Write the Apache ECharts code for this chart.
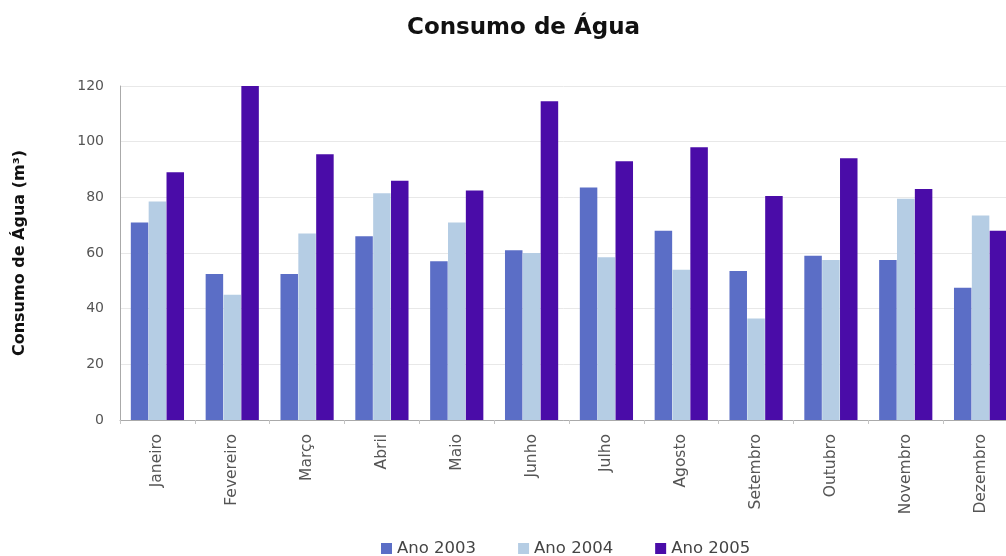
<!DOCTYPE html>
<html>
<head>
<meta charset="utf-8">
<script src="https://cdn.jsdelivr.net/npm/echarts@6/dist/echarts.min.js"></script>
<style>
html,body{margin:0;padding:0;background:#fff;}
#chart{width:1006px;height:556px;}
</style>
</head>
<body>
<div id="chart"></div>
<script>
const categories = ['Janeiro','Fevereiro','Março','Abril','Maio','Junho','Julho','Agosto','Setembro','Outubro','Novembro','Dezembro'];
const ano2003 = [71, 52.5, 52.5, 66, 57, 61, 83.5, 68, 53.5, 59, 57.5, 47.5];
const ano2004 = [78.5, 45, 67, 81.5, 71, 60, 58.5, 54, 36.5, 57.5, 79.5, 73.5];
const ano2005 = [89, 120, 95.5, 86, 82.5, 114.5, 93, 98, 80.5, 94, 83, 68];
const yTicks = [0, 20, 40, 60, 80, 100, 120];
const seriesNames = ['Ano 2003', 'Ano 2004', 'Ano 2005'];
const colors = ['#5b6ec6', '#b5cde4', '#4a0ca8'];

const chart = echarts.init(document.getElementById('chart'), null, {renderer: 'canvas'});
const font = 'DejaVu Sans';
chart.setOption({
  animation: false,
  backgroundColor: '#ffffff',
  title: {
    text: 'Consumo de Água',
    left: 402, top: 12,
    textStyle: {fontFamily: font, fontWeight: 'bold', fontSize: 23, color: '#111'}
  },
  legend: {
    data: seriesNames,
    left: 376, top: 535,
    itemWidth: 11, itemHeight: 11, itemGap: 42,
    icon: 'rect',
    textStyle: {fontFamily: font, fontSize: 16.5, color: '#444'}
  },
  grid: {left: 120, top: 86, width: 898, height: 334, containLabel: false, outerBoundsMode: 'none'},
  xAxis: {
    type: 'category',
    data: categories,
    axisLine: {show: true, lineStyle: {color: '#aaaaaa'}},
    axisTick: {show: true, length: 4, lineStyle: {color: '#c4c4c4'}},
    axisLabel: {rotate: 90, margin: 14, fontFamily: font, fontSize: 15.5, color: '#555', interval: 0}
  },
  yAxis: {
    type: 'value',
    min: 0, max: yTicks[yTicks.length - 1], interval: 20,
    name: 'Consumo de Água (m³)',
    nameLocation: 'middle',
    nameGap: 92,
    nameTextStyle: {fontFamily: font, fontWeight: 'bold', fontSize: 16, color: '#111'},
    axisLine: {show: true, lineStyle: {color: '#aaaaaa'}},
    axisTick: {show: false},
    axisLabel: {margin: 16, fontFamily: font, fontSize: 14, color: '#555'},
    splitLine: {show: true, lineStyle: {color: '#e8e8e8'}}
  },
  series: [
    {name: seriesNames[0], type: 'bar', data: ano2003, barWidth: 17.5, barGap: '2%', itemStyle: {color: colors[0]}},
    {name: seriesNames[1], type: 'bar', data: ano2004, barWidth: 17.5, barGap: '2%', itemStyle: {color: colors[1]}},
    {name: seriesNames[2], type: 'bar', data: ano2005, barWidth: 17.5, barGap: '2%', itemStyle: {color: colors[2]}}
  ]
});
</script>
</body>
</html>
